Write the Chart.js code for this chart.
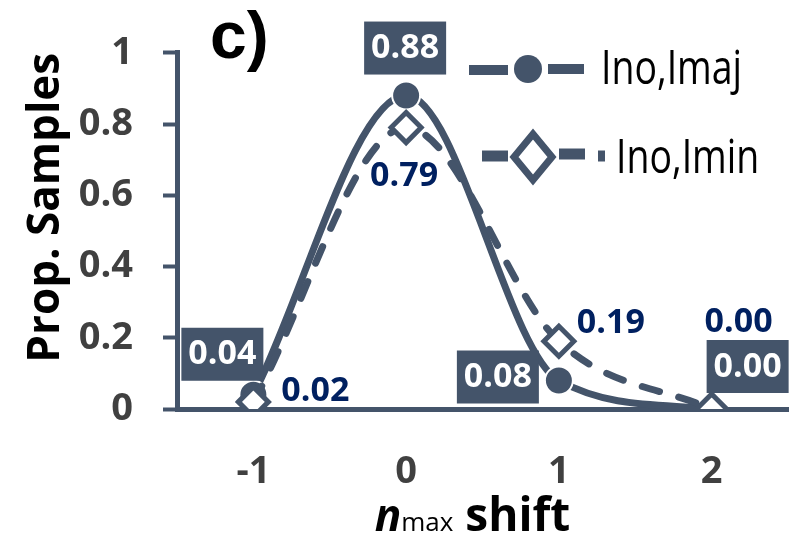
<!DOCTYPE html>
<html><head><meta charset="utf-8">
<script src="https://cdn.jsdelivr.net/npm/chart.js@4/dist/chart.umd.min.js"></script>
<style>html,body{margin:0;padding:0;background:#fff}#wrap{width:808px;height:542px}</style>
</head><body><div id="wrap"><canvas id="c" width="808" height="542"></canvas></div>
<script>
// ---- data ----
const shifts = [-1, 0, 1, 2];
const majValues = [0.04, 0.88, 0.08, 0.00];
const minValues = [0.02, 0.79, 0.19, 0.00];
const xTickValues = [-1, 0, 1, 2];
const yTickLabels = ['0', '0.2', '0.4', '0.6', '0.8', '1'];
const seriesNames = ['Ino,Imaj', 'Ino,Imin'];
const panelLabel = 'c)';
const yTitle = 'Prop. Samples';

// ---- styles ----
const LINE = '#44546a';
const NAVY = '#002060';
const TICKC = '#404040';
const labelStyle = [
  { box: true, color: '#ffffff', offsets: [[-31, -41], [-1, -48], [-61, -4], [36, -43]] },
  { box: false, color: NAVY, offsets: [[62, -12], [-2, 48], [52, -19], [27, -88]] }
];

const toPoints = vals => shifts.map((x, i) => ({ x: x, y: vals[i] }));

const labelPlugin = {
  id: 'labels',
  afterDatasetsDraw(chart) {
    const ctx = chart.ctx;
    ctx.save();
    chart.data.datasets.forEach((ds, di) => {
      const meta = chart.getDatasetMeta(di);
      const st = labelStyle[di];
      meta.data.forEach((pt, i) => {
        const [dx, dy] = st.offsets[i];
        const cx = pt.x + dx, cy = pt.y + dy;
        const txt = ds.data[i].y.toFixed(2);
        ctx.font = 'bold 34px "Open Sans"';
        if (st.box) {
          ctx.fillStyle = LINE;
          ctx.fillRect(cx - 41, cy - 26, 82, 53);
        }
        ctx.fillStyle = st.color;
        ctx.textAlign = 'center';
        ctx.textBaseline = 'middle';
        ctx.fillText(txt, cx, cy + 1);
      });
    });
    ctx.restore();
  }
};

const decorPlugin = {
  id: 'decor',
  afterDraw(chart) {
    const ctx = chart.ctx;
    ctx.save();
    // panel label
    ctx.fillStyle = '#000';
    ctx.font = 'bold 66px "Liberation Sans"';
    ctx.textAlign = 'left';
    ctx.textBaseline = 'alphabetic';
    ctx.fillText(panelLabel, 210, 58);

    // x title: n(italic bold) + max(small) + shift
    const parts = [
      { t: 'n', f: 'italic bold 44px "Open Sans"' },
      { t: 'max', f: '26px "Open Sans"' },
      { t: ' shift', f: 'bold 46px "Open Sans"' }
    ];
    let total = 0;
    parts.forEach(p => { ctx.font = p.f; p.w = ctx.measureText(p.t).width; total += p.w; });
    const a = chart.chartArea;
    let x = (a.left + a.right) / 2 - 10 - total / 2;
    parts.forEach(p => { ctx.font = p.f; ctx.fillText(p.t, x, 531); x += p.w; });

    // legend
    ctx.strokeStyle = LINE;
    ctx.lineCap = 'butt';
    ctx.lineWidth = 10;
    const seg = (x1, y1, x2, y2) => { ctx.beginPath(); ctx.moveTo(x1, y1); ctx.lineTo(x2, y2); ctx.stroke(); };
    seg(469, 70, 508, 70);
    seg(548, 69, 584, 69);
    ctx.beginPath(); ctx.arc(528, 69, 14, 0, Math.PI * 2); ctx.fillStyle = LINE; ctx.fill();
    ctx.lineWidth = 11;
    seg(482, 156, 508, 156);
    seg(559, 154, 585, 154);
    seg(598, 156, 605, 156);
    ctx.beginPath();
    ctx.moveTo(533, 134); ctx.lineTo(552, 157); ctx.lineTo(533, 180); ctx.lineTo(514, 157); ctx.closePath();
    ctx.fillStyle = '#fff'; ctx.fill();
    ctx.lineWidth = 7; ctx.lineJoin = 'miter'; ctx.stroke();

    ctx.fillStyle = '#000';
    ctx.font = '48px "Open Sans"';
    const legendPos = [[601, 84], [616, 173]];
    seriesNames.forEach((n, i) => {
      ctx.save();
      ctx.translate(legendPos[i][0], legendPos[i][1]);
      ctx.scale(0.78, 1);
      ctx.fillText(n, 0, 0);
      ctx.restore();
    });
    ctx.restore();
  }
};

new Chart(document.getElementById('c'), {
  type: 'line',
  data: {
    datasets: [
      {
        label: seriesNames[0],
        data: toPoints(majValues),
        borderColor: LINE,
        borderWidth: 7,
        backgroundColor: LINE,
        pointBackgroundColor: LINE,
        pointBorderColor: '#ffffff',
        pointBorderWidth: 2,
        pointRadius: [14, 14, 14, 0],
        pointStyle: 'circle',
        cubicInterpolationMode: 'monotone',
        tension: 0.4,
        fill: false,
        order: 1
      },
      {
        label: seriesNames[1],
        data: toPoints(minValues),
        borderColor: LINE,
        borderWidth: 7,
        borderDash: [18, 20],
        borderCapStyle: 'round',
        pointBackgroundColor: '#ffffff',
        pointBorderColor: LINE,
        pointBorderWidth: 5,
        pointRadius: 15,
        pointStyle: 'rectRot',
        cubicInterpolationMode: 'monotone',
        tension: 0.4,
        fill: false,
        order: 0
      }
    ]
  },
  options: {
    responsive: false,
    animation: false,
    devicePixelRatio: 1,
    layout: { padding: { top: 48, right: 15, left: 0, bottom: 0 } },
    plugins: { legend: { display: false }, tooltip: { enabled: false } },
    scales: {
      x: {
        type: 'linear',
        min: -1.5,
        max: 2.5,
        afterBuildTicks: s => { s.ticks = xTickValues.map(v => ({ value: v })); },
        afterFit: s => { s.height = 133; },
        grid: { display: true, drawOnChartArea: false, drawTicks: false },
        border: { display: true, color: LINE, width: 5 },
        ticks: {
          padding: 40,
          color: TICKC,
          font: { family: '"Open Sans"', size: 38, weight: 'bold' },
          callback: v => String(v)
        }
      },
      y: {
        min: 0,
        max: 1,
        afterBuildTicks: s => { s.ticks = yTickLabels.map(v => ({ value: parseFloat(v) })); },
        afterFit: s => { s.width = 177; },
        grid: { display: true, drawOnChartArea: false, drawTicks: true, tickLength: 14, tickWidth: 4, tickColor: LINE },
        border: { display: true, color: LINE, width: 5 },
        ticks: {
          padding: 30,
          color: TICKC,
          font: { family: '"Open Sans"', size: 38, weight: 'bold' },
          callback: (v, i) => yTickLabels[i]
        },
        title: {
          display: true,
          text: yTitle,
          align: 'end',
          color: '#000',
          font: { family: '"Open Sans"', size: 44, weight: 'bold' },
          padding: { top: 20, bottom: 0 }
        }
      }
    }
  },
  plugins: [labelPlugin, decorPlugin]
});
</script></body></html>
